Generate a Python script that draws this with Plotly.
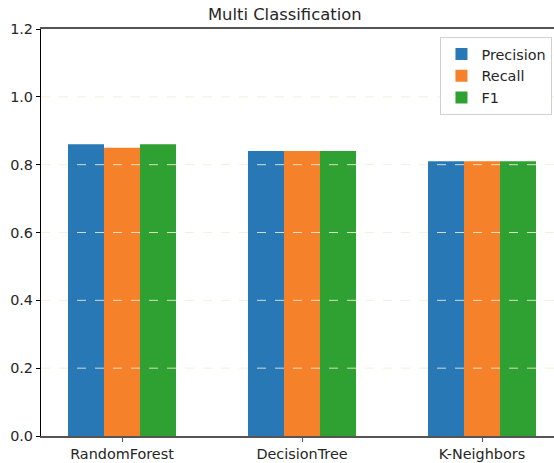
import plotly.graph_objects as go

categories = ["RandomForest", "DecisionTree", "K-Neighbors"]
precision = [0.86, 0.84, 0.81]
recall = [0.85, 0.84, 0.81]
f1 = [0.86, 0.84, 0.81]
series_names = ["Precision", "Recall", "F1"]
colors = ["#2878b5", "#f5822a", "#2fa032"]
y_ticks = [0.0, 0.2, 0.4, 0.6, 0.8, 1.0, 1.2]
grid_vals = [0.2, 0.4, 0.6, 0.8, 1.0]

fig = go.Figure()
for name, vals, c in zip(series_names, [precision, recall, f1], colors):
    fig.add_trace(go.Bar(x=list(range(len(categories))), y=vals, name=name,
                         marker=dict(color=c, line=dict(width=0))))

shapes = []
for g in grid_vals:
    shapes.append(dict(type="line", xref="paper", yref="y", x0=0, x1=1, y0=g, y1=g,
                       layer="above", line=dict(color="rgba(238,238,215,0.85)", width=1, dash="dash")))

fig.update_layout(
    width=554, height=463,
    margin=dict(l=41, r=0, t=29, b=27),
    paper_bgcolor="white", plot_bgcolor="white",
    font=dict(family="DejaVu Sans", size=14.4, color="#262626"),
    title=dict(text="Multi Classification", x=0.514, xanchor="center", y=0.97, yanchor="middle",
               font=dict(size=16.4, color="#262626")),
    barmode="group", bargap=0.4, bargroupgap=0,
    shapes=shapes,
    legend=dict(x=0.997, xanchor="right", y=0.98, yanchor="top",
                bordercolor="#d0d0d0", borderwidth=1, bgcolor="rgba(255,255,255,0.9)",
                font=dict(size=14.4), tracegroupgap=0),
    xaxis=dict(range=[-0.45, 2.4], tickmode="array", tickvals=list(range(len(categories))),
               ticktext=categories, showgrid=False, zeroline=False,
               showline=True, linecolor="#555555", linewidth=1.5, mirror=True,
               ticks="outside", ticklen=4, tickcolor="#555555"),
    yaxis=dict(range=[0, 1.2], tickmode="array", tickvals=y_ticks,
               ticktext=[f"{v:.1f}" for v in y_ticks], showgrid=False, zeroline=False,
               showline=True, linecolor="black", linewidth=1.2,
               ticks="outside", ticklen=4, tickcolor="black"),
)

fig.write_html("out.html", config={"displayModeBar": False},
               post_script="document.body.style.margin='0';document.body.style.overflow='hidden';")
